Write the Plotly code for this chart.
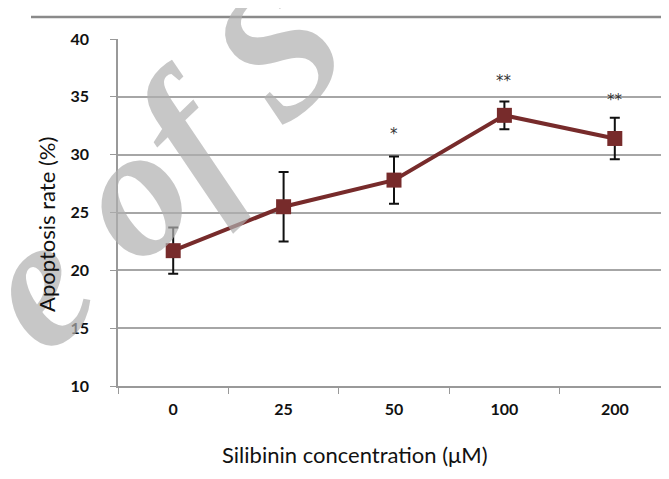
import plotly.graph_objects as go

categories = ["0", "25", "50", "100", "200"]
apoptosis = [21.7, 25.5, 27.8, 33.4, 31.4]
errors = [2.0, 3.0, 2.05, 1.2, 1.8]
sig_labels = ["", "", "*", "**", "**"]
sig_y = [None, None, 31.8, 36.4, 34.7]
y_ticks = [10, 15, 20, 25, 30, 35, 40]

RED = "#772b2b"
FONT = "Lato"

fig = go.Figure()
fig.add_trace(go.Scatter(
    x=categories, y=apoptosis, mode="lines+markers",
    line=dict(color=RED, width=4),
    marker=dict(symbol="square", size=15, color=RED),
    error_y=dict(type="data", array=errors, visible=True,
                 color="#111111", thickness=2, width=5),
    showlegend=False, hoverinfo="skip",
))

annotations = []
for i, (lab, yy) in enumerate(zip(sig_labels, sig_y)):
    if lab:
        annotations.append(dict(x=i, y=yy, xref="x", yref="y", text=lab,
                                showarrow=False, font=dict(family="DejaVu Sans", size=15, color="#333333")))

# watermark
annotations.append(dict(x=0.075, y=0.64, xref="paper", yref="paper", text="<i><b>e of S</b></i>",
                        showarrow=False, textangle=-44, xanchor="center", yanchor="middle",
                        font=dict(family="Liberation Serif", size=185, color="rgba(175,175,175,0.7)")))

# axis titles
annotations.append(dict(x=0.429, y=-0.196, xref="paper", yref="paper",
                        text="Silibinin concentration (μM)", showarrow=False,
                        xanchor="center", yanchor="middle",
                        font=dict(family=FONT, size=22, color="#111111")))
annotations.append(dict(x=-0.13, y=0.465, xref="paper", yref="paper",
                        text="Apoptosis rate (%)", showarrow=False, textangle=-90,
                        xanchor="center", yanchor="middle",
                        font=dict(family=FONT, size=22, color="#111111")))

shapes = [
    dict(type="line", xref="paper", yref="paper", x0=-0.1576, x1=1.02, y0=1.0634, y1=1.0634,
         line=dict(color="#8a8a8a", width=2.5)),
    dict(type="line", xref="paper", yref="paper", x0=-0.1576, x1=1.02, y0=-0.2875, y1=-0.2875,
         line=dict(color="#f0f0f0", width=1)),
]

fig.update_layout(
    width=669, height=479,
    margin=dict(l=110, r=7, t=31, b=101),
    paper_bgcolor="white", plot_bgcolor="white",
    annotations=annotations, shapes=shapes,
    font=dict(family=FONT, color="#111111"),
)
fig.update_xaxes(
    type="category", range=[-0.5, 4.5], tickson="boundaries", ticks="outside", ticklen=6,
    tickcolor="#999999", tickangle=0,
    showline=True, linecolor="#999999", linewidth=1.5, showgrid=False,
    tickfont=dict(family=FONT, size=16, color="#111111", weight="bold"), ticklabelstandoff=8,
)
fig.update_yaxes(
    range=[10, 40], tickvals=y_ticks, ticks="outside", ticklen=6, tickcolor="#999999",
    showline=True, linecolor="#999999", linewidth=1.5,
    showgrid=True, gridcolor="#a6a6a6", gridwidth=1.5, zeroline=False,
    tickfont=dict(family=FONT, size=16, color="#111111", weight="bold"), ticklabelstandoff=18,
)

fig.write_html("out.html")
